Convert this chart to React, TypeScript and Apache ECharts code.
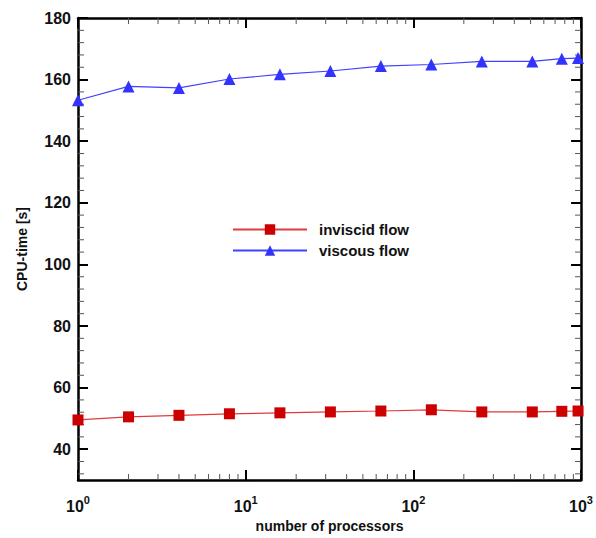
import React, { useEffect, useRef } from "react";
import * as echarts from "echarts";

const processors = [1, 2, 4, 8, 16, 32, 64, 128, 256, 512, 768, 960];
const inviscid = [49.5, 50.5, 51.0, 51.5, 51.8, 52.1, 52.4, 52.8, 52.1, 52.1, 52.3, 52.4];
const viscous = [153.3, 157.8, 157.3, 160.2, 161.7, 162.8, 164.4, 164.9, 165.9, 165.9, 166.8, 167.0];
const yMajorTicks = [40, 60, 80, 100, 120, 140, 160, 180];
const yMinorTicks = [32, 36, 44, 48, 52, 56, 64, 68, 72, 76, 84, 88, 92, 96, 104, 108, 112, 116, 124, 128, 132, 136, 144, 148, 152, 156, 164, 168, 172, 176];
const xMinorTicks = [2, 3, 4, 5, 6, 7, 8, 9, 20, 30, 40, 50, 60, 70, 80, 90, 200, 300, 400, 500, 600, 700, 800, 900];

const Y_MIN = 30;
const Y_MAX = 180;
const X_MIN = 1;
const X_MAX = 1000;
const FONT = "Liberation Sans, Arial, sans-serif";

export default function App() {
  const ref = useRef<HTMLDivElement>(null);
  useEffect(() => {
    if (!ref.current) return;
    const chart = echarts.init(ref.current, undefined, { renderer: "svg" });
    const axisLine = { show: true, lineStyle: { color: "#000", width: 2.5 } };
    const majorTick = { show: true, inside: true, length: 10, lineStyle: { color: "#000", width: 2 } };
    const expLabel = (v: number) => {
      const e = Math.round(Math.log10(v));
      return `{b|10}{s|${e}}`;
    };
    const rich = {
      b: { fontFamily: FONT, fontWeight: "bold", fontSize: 16, color: "#111", lineHeight: 20, verticalAlign: "bottom" },
      s: { fontFamily: FONT, fontWeight: "bold", fontSize: 11, color: "#111", lineHeight: 20, verticalAlign: "top", padding: [0, 0, 6, 0] },
    };
    const minorStyle = { stroke: "#555", lineWidth: 1 };
    chart.setOption({
      animation: false,
      backgroundColor: "#fff",
      grid: { left: 78, right: 13, top: 18, bottom: 58, containLabel: false },
      legend: {
        data: [
          { name: "inviscid flow" },
          { name: "viscous flow" },
        ],
        orient: "vertical",
        left: 232,
        top: 222,
        padding: 0,
        itemWidth: 74,
        itemHeight: 13,
        itemGap: 6,
        textStyle: { fontFamily: FONT, fontWeight: "bold", fontSize: 15, color: "#111", padding: [0, 0, 0, 7] },
      },
      xAxis: [
        {
          type: "log",
          logBase: 10,
          min: X_MIN,
          max: X_MAX,
          position: "bottom",
          axisLine,
          axisTick: majorTick,
          splitLine: { show: false },
          axisLabel: { formatter: expLabel, rich, margin: 14 },
          name: "number of processors",
          nameLocation: "middle",
          nameGap: 32,
          nameTextStyle: { fontFamily: FONT, fontWeight: "bold", fontSize: 14, color: "#111" },
        },
        {
          type: "log",
          logBase: 10,
          min: X_MIN,
          max: X_MAX,
          position: "top",
          axisLine,
          axisTick: majorTick,
          splitLine: { show: false },
          axisLabel: { show: false },
        },
      ],
      yAxis: [
        {
          type: "value",
          min: Y_MIN,
          max: Y_MAX,
          interval: 10,
          position: "left",
          axisLine,
          axisTick: { ...majorTick, customValues: yMajorTicks },
          splitLine: { show: false },
          axisLabel: {
            customValues: yMajorTicks,
            fontFamily: FONT,
            fontWeight: "bold",
            fontSize: 16,
            color: "#111",
            margin: 7,
          },
          name: "CPU-time [s]",
          nameLocation: "middle",
          nameGap: 49,
          nameRotate: 90,
          nameTextStyle: { fontFamily: FONT, fontWeight: "bold", fontSize: 14, color: "#111" },
        },
        {
          type: "value",
          min: Y_MIN,
          max: Y_MAX,
          interval: 10,
          position: "right",
          axisLine,
          axisTick: { ...majorTick, customValues: yMajorTicks },
          splitLine: { show: false },
          axisLabel: { show: false },
        },
      ],
      series: [
        {
          type: "custom",
          name: "xminor",
          xAxisIndex: 0,
          yAxisIndex: 0,
          clip: false,
          silent: true,
          data: xMinorTicks.map((v) => [v, Y_MIN]),
          renderItem: (_p: any, api: any) => {
            const v = api.value(0);
            const b = api.coord([v, Y_MIN]);
            const t = api.coord([v, Y_MAX]);
            return {
              type: "group",
              children: [
                { type: "line", shape: { x1: b[0], y1: b[1], x2: b[0], y2: b[1] - 6 }, style: minorStyle },
                { type: "line", shape: { x1: t[0], y1: t[1], x2: t[0], y2: t[1] + 6 }, style: minorStyle },
              ],
            };
          },
        },
        {
          type: "custom",
          name: "yminor",
          xAxisIndex: 0,
          yAxisIndex: 0,
          clip: false,
          silent: true,
          data: yMinorTicks.map((v) => [X_MIN, v]),
          renderItem: (_p: any, api: any) => {
            const v = api.value(1);
            const l = api.coord([X_MIN, v]);
            const r = api.coord([X_MAX, v]);
            return {
              type: "group",
              children: [
                { type: "line", shape: { x1: l[0], y1: l[1], x2: l[0] + 6, y2: l[1] }, style: minorStyle },
                { type: "line", shape: { x1: r[0], y1: r[1], x2: r[0] - 6, y2: r[1] }, style: minorStyle },
              ],
            };
          },
        },
        {
          type: "line",
          name: "inviscid flow",
          xAxisIndex: 0,
          yAxisIndex: 0,
          data: processors.map((p, i) => [p, inviscid[i]]),
          symbol: "rect",
          symbolSize: 11,
          clip: false,
          lineStyle: { color: "#e03a3a", width: 1.2 },
          itemStyle: { color: "#cc0000" },
          z: 5,
        },
        {
          type: "line",
          name: "viscous flow",
          xAxisIndex: 0,
          yAxisIndex: 0,
          data: processors.map((p, i) => [p, viscous[i]]),
          symbol: "triangle",
          symbolSize: 12,
          clip: false,
          lineStyle: { color: "#4040ff", width: 1.2 },
          itemStyle: { color: "#3333ff" },
          z: 5,
        },
      ],
    });
    return () => chart.dispose();
  }, []);
  return <div ref={ref} style={{ position: "fixed", left: 0, top: 0, width: 596, height: 538 }} />;
}
